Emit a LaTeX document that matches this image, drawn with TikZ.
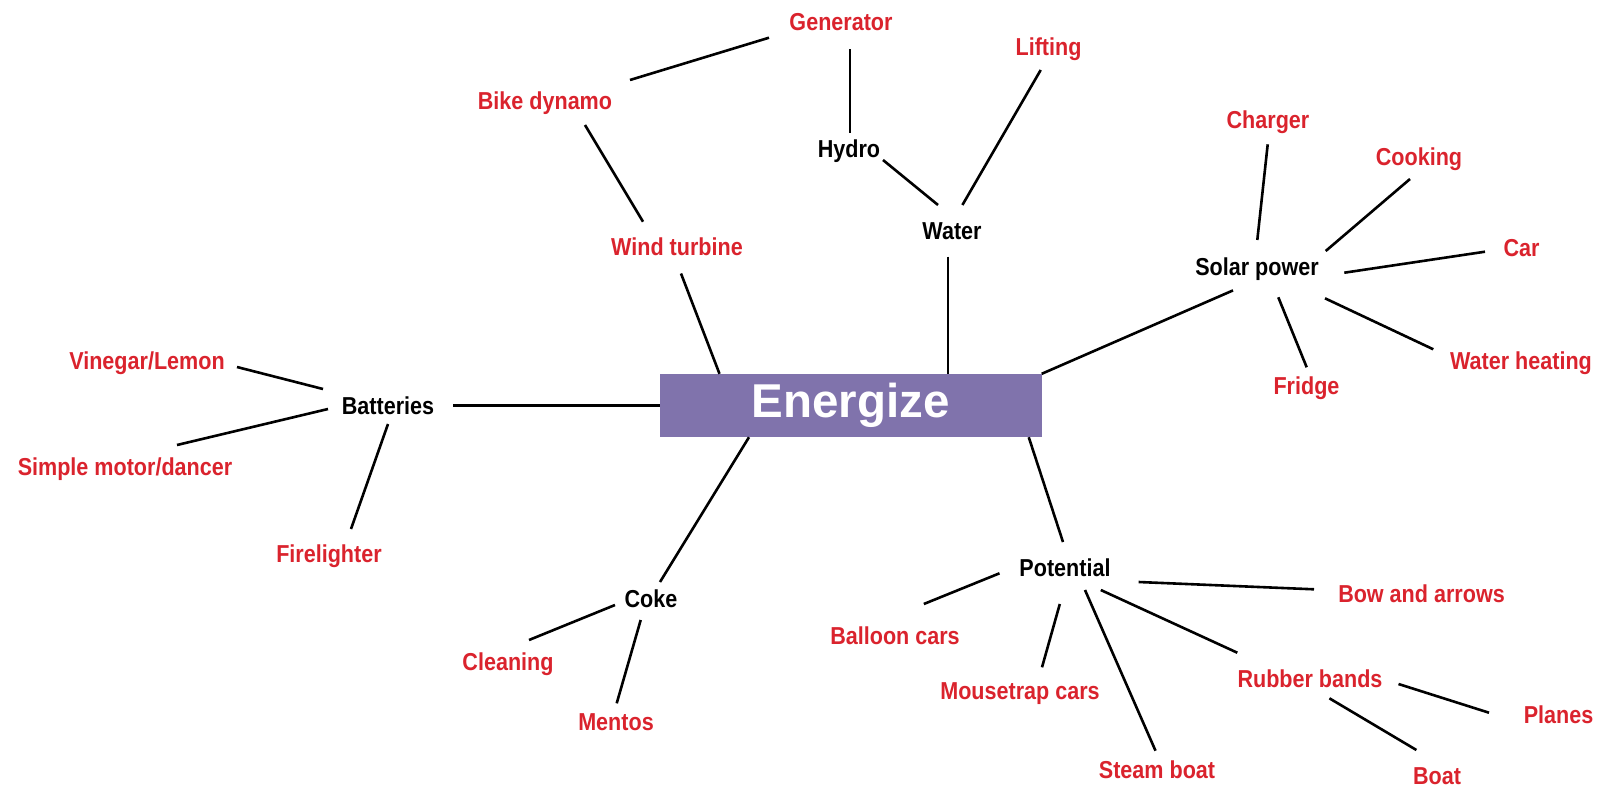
\documentclass[tikz,border=0pt]{standalone}
\usepackage{fontspec}
\newfontfamily\lblfont{Liberation Sans}[FakeStretch=0.88]
\newfontfamily\hubfont{Liberation Sans}
\definecolor{lblred}{RGB}{218,35,45}
\definecolor{hubpurple}{RGB}{128,115,172}
\tikzset{
  lbl/.style={inner sep=0pt, text height=17.5pt, text depth=0pt,
    font=\lblfont\bfseries\fontsize{24.5}{28}\selectfont},
  leaf/.style={lbl, text=lblred},
  branch/.style={lbl, text=black},
  hub/.style={fill=hubpurple, minimum width=381.5pt, minimum height=63pt, inner sep=0pt,
    text=white, font=\hubfont\bfseries\fontsize{47.5}{50}\selectfont},
  link/.style={draw=black, line width=2.6pt}
}
\newcommand\lnk[4]{\draw[link] ([shift={(#2)}]#1.center) -- ([shift={(#4)}]#3.center);}
\begin{document}
\begin{tikzpicture}[x=1pt,y=-1pt]
\useasboundingbox (0,0) rectangle (1598,788);
% hub
\node[hub] (en) at (850.75,405.5) {Energize};
% branches
\node[branch] (bat) at (388,406) {Batteries};
\node[branch] (hydro) at (849,149) {Hydro};
\node[branch] (water) at (952,231) {Water};
\node[branch] (solar) at (1257,267) {Solar power};
\node[branch] (coke) at (651,599) {Coke};
\node[branch] (pot) at (1065,568) {Potential};
% leaves
\node[leaf] (gen) at (841,21.7) {Generator};
\node[leaf] (bike) at (545,101) {Bike dynamo};
\node[leaf] (lift) at (1048.5,46.7) {Lifting};
\node[leaf] (wind) at (677,247) {Wind turbine};
\node[leaf] (charger) at (1268,120) {Charger};
\node[leaf] (cook) at (1419,157) {Cooking};
\node[leaf] (car) at (1521.5,247.5) {Car};
\node[leaf] (fridge) at (1306.5,385.5) {Fridge};
\node[leaf] (wheat) at (1521,361) {Water heating};
\node[leaf] (vin) at (147,360.5) {Vinegar/Lemon};
\node[leaf] (simple) at (125,467) {Simple motor/dancer};
\node[leaf] (fire) at (329,554) {Firelighter};
\node[leaf] (clean) at (508,662) {Cleaning};
\node[leaf] (mentos) at (616,722) {Mentos};
\node[leaf] (balloon) at (895,636) {Balloon cars};
\node[leaf] (bow) at (1421.5,593.5) {Bow and arrows};
\node[leaf] (mouse) at (1020,691) {Mousetrap cars};
\node[leaf] (steam) at (1157,770) {Steam boat};
\node[leaf] (rubber) at (1310,679) {Rubber bands};
\node[leaf] (planes) at (1558.5,715) {Planes};
\node[leaf] (boat) at (1437,775.5) {Boat};
% connectors
\lnk{bike}{85,-21}{gen}{-72,16}
\lnk{gen}{9,27.6}{hydro}{1,-16.3}
\lnk{lift}{-7.8,23.3}{water}{10.4,-26}
\lnk{hydro}{34,11}{water}{-14,-26}
\lnk{bike}{40,24}{wind}{-34,-25.3}
\draw[link] ([shift={(-4,25.7)}]water.center) -- ([shift={(-4,0)}]water.center |- en.north);
\draw[link] ([shift={(4,26.5)}]wind.center) -- ([shift={(-131.25,0)}]en.north);
\draw[link] ([shift={(-24,23.4)}]solar.center) -- (en.north east);
\lnk{charger}{-0.3,24.3}{solar}{0.3,-27}
\lnk{cook}{-9,22}{solar}{68.7,-16}
\lnk{car}{-36.5,4.2}{solar}{87.3,5.7}
\lnk{solar}{21.3,30.3}{fridge}{0.2,-18.2}
\lnk{solar}{68,31.3}{wheat}{-87.7,-11.7}
\lnk{vin}{90,6.5}{bat}{-65,-17}
\lnk{bat}{-60,3}{simple}{52,-22}
\lnk{bat}{0,18}{fire}{22,-25}
\draw[link] ([shift={(65,-0.5)}]bat.center) -- ([shift={(0,-0.5)}]bat.center -| en.west);
\draw[link] ([shift={(-101.75,0)}]en.south) -- ([shift={(9,-17)}]coke.center);
\lnk{coke}{-36,6}{clean}{21,-22}
\lnk{coke}{-10.3,21}{mentos}{0.7,-18.7}
\draw[link] ([shift={(178,0)}]en.south) -- ([shift={(-2,-26)}]pot.center);
\lnk{pot}{-65.5,5.3}{balloon}{28.8,-32}
\lnk{pot}{73.6,14}{bow}{-107.5,-4.2}
\lnk{pot}{-5.2,36}{mouse}{22,-23.7}
\lnk{pot}{20,22}{steam}{-1.5,-19.3}
\lnk{pot}{35.8,22}{rubber}{-72.7,-26.3}
\lnk{rubber}{88.5,5}{planes}{-69.5,-2.3}
\lnk{rubber}{19.4,19.3}{boat}{-20.6,-25.5}
\end{tikzpicture}
\end{document}
